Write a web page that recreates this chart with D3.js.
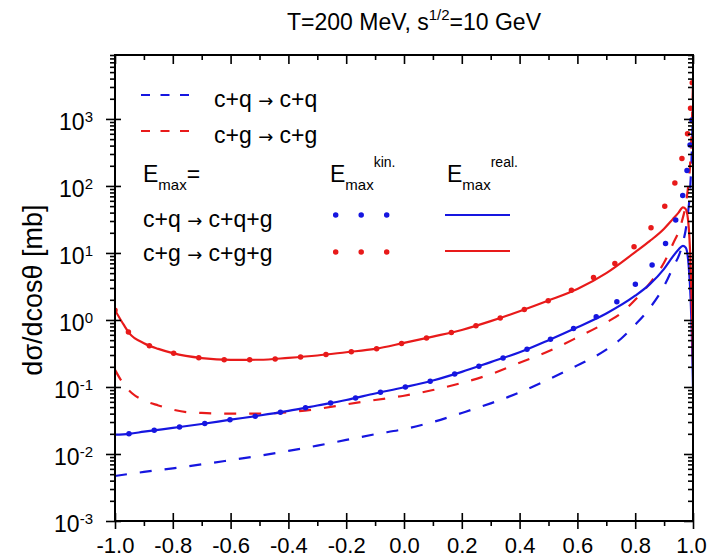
<!DOCTYPE html>
<meta charset="utf-8">
<style>
  body { margin: 0; background: #fff; }
  svg text { font-family: "Liberation Sans", Arial, sans-serif; fill: #000; }
  .arrow { font-family: "DejaVu Sans", sans-serif; }
</style>
<body>
<div id="chart"></div>
<script src="https://cdn.jsdelivr.net/npm/d3@7/dist/d3.min.js"></script>
<script>
// values: [cos theta, dsigma/dcos theta in mb]
const cqElastic = [[-1, 0.0047], [-0.9, 0.0054], [-0.8, 0.0061], [-0.7, 0.0070], [-0.6, 0.0081],
  [-0.5, 0.0094], [-0.4, 0.0111], [-0.3, 0.0133], [-0.2, 0.0162], [-0.1, 0.0197], [0, 0.0235],
  [0.1, 0.030], [0.2, 0.041], [0.3, 0.057], [0.4, 0.083], [0.5, 0.13], [0.6, 0.21], [0.7, 0.36],
  [0.75, 0.52], [0.8, 0.85], [0.85, 1.5], [0.9, 3.2], [0.93, 6], [0.96, 12], [0.98, 32],
  [0.99, 90], [0.995, 250], [1.0, 1500]];
const cgElastic = [[-1, 0.18], [-0.97, 0.11], [-0.94, 0.08], [-0.9, 0.063], [-0.85, 0.053],
  [-0.8, 0.046], [-0.75, 0.042], [-0.7, 0.041], [-0.6, 0.040], [-0.5, 0.040], [-0.4, 0.042],
  [-0.3, 0.047], [-0.2, 0.055], [-0.1, 0.064], [0, 0.074], [0.1, 0.090], [0.2, 0.115],
  [0.3, 0.155], [0.4, 0.23], [0.5, 0.34], [0.6, 0.55], [0.7, 0.92], [0.75, 1.25], [0.8, 2.0],
  [0.85, 3.5], [0.9, 7.2], [0.93, 13.5], [0.96, 28], [0.98, 75], [0.99, 210], [0.995, 580],
  [1.0, 3500]];
const cqReal = [[-1, 0.0194], [-0.95, 0.020], [-0.9, 0.0215], [-0.8, 0.0245], [-0.7, 0.028],
  [-0.6, 0.0325], [-0.5, 0.0375], [-0.4, 0.044], [-0.3, 0.053], [-0.2, 0.064], [-0.1, 0.080],
  [0, 0.099], [0.1, 0.125], [0.2, 0.168], [0.3, 0.235], [0.4, 0.33], [0.5, 0.50], [0.6, 0.78],
  [0.7, 1.25], [0.8, 2.3], [0.85, 3.4], [0.9, 5.8], [0.93, 8.8], [0.95, 11.3], [0.965, 12.8],
  [0.975, 12], [0.985, 6.5], [0.992, 2], [0.996, 0.6], [1.0, 0.1]];
const cgReal = [[-1, 1.4], [-0.97, 0.85], [-0.95, 0.63], [-0.9, 0.45], [-0.85, 0.37],
  [-0.8, 0.32], [-0.7, 0.27], [-0.6, 0.254], [-0.5, 0.255], [-0.4, 0.272], [-0.3, 0.295],
  [-0.2, 0.33], [-0.1, 0.37], [0, 0.455], [0.1, 0.565], [0.2, 0.71], [0.3, 0.96], [0.4, 1.35],
  [0.5, 1.95], [0.6, 2.9], [0.7, 5.0], [0.8, 10.3], [0.85, 15], [0.9, 23], [0.93, 32],
  [0.95, 40], [0.965, 48], [0.975, 45], [0.985, 25], [0.992, 6], [0.996, 1.5], [1.0, 0.22]];
const cqKin = [[-1, 0.0194], [-0.95, 0.020], [-0.9, 0.0215], [-0.8, 0.0245], [-0.7, 0.028],
  [-0.6, 0.0325], [-0.5, 0.0375], [-0.4, 0.044], [-0.3, 0.053], [-0.2, 0.064], [-0.1, 0.080],
  [0, 0.099], [0.1, 0.125], [0.2, 0.168], [0.3, 0.235], [0.4, 0.33], [0.5, 0.50], [0.6, 0.80],
  [0.7, 1.4], [0.76, 2.3], [0.82, 4.2], [0.88, 9], [0.92, 19], [0.95, 42], [0.97, 95],
  [0.98, 180], [0.99, 420], [0.995, 800], [1.0, 2000]];
const cgKin = [[-1, 1.4], [-0.97, 0.85], [-0.95, 0.63], [-0.9, 0.45], [-0.85, 0.37],
  [-0.8, 0.32], [-0.7, 0.27], [-0.6, 0.254], [-0.5, 0.255], [-0.4, 0.272], [-0.3, 0.295],
  [-0.2, 0.33], [-0.1, 0.37], [0, 0.455], [0.1, 0.565], [0.2, 0.71], [0.3, 0.96], [0.4, 1.35],
  [0.5, 1.95], [0.6, 3.1], [0.68, 5.0], [0.76, 8.8], [0.82, 16], [0.88, 34], [0.92, 72],
  [0.95, 165], [0.97, 370], [0.987, 925], [0.995, 2300], [1.0, 5700]];

const xTicks = [-1.0, -0.8, -0.6, -0.4, -0.2, 0.0, 0.2, 0.4, 0.6, 0.8, 1.0];
const xMinor = [-0.9, -0.7, -0.5, -0.3, -0.1, 0.1, 0.3, 0.5, 0.7, 0.9];
const yExponents = [-3, -2, -1, 0, 1, 2, 3];

const width = 707, height = 558;
const margin = {top: 55, right: 14, bottom: 37, left: 115};
const blue = "#1616e0", red = "#e81a1a";

const x = d3.scaleLinear().domain([-1, 1]).range([margin.left, width - margin.right]);
const y = d3.scaleLog().domain([1e-3, 9000]).range([height - margin.bottom, margin.top]);

const yMajor = yExponents.map(e => Math.pow(10, e));
let yMinor = [];
for (let e = -3; e <= 3; e++)
  for (let m = 2; m <= 9; m++) yMinor.push(m * Math.pow(10, e));

const svg = d3.select("#chart").append("svg")
  .attr("width", width).attr("height", height);

svg.append("clipPath").attr("id", "plot")
  .append("rect")
  .attr("x", margin.left).attr("y", margin.top)
  .attr("width", width - margin.left - margin.right)
  .attr("height", height - margin.top - margin.bottom);

// title
const title = svg.append("text")
  .attr("x", x(0) + 10).attr("y", 30)
  .attr("text-anchor", "middle").attr("font-size", 23);
title.append("tspan").text("T=200 MeV, s");
title.append("tspan").attr("dy", -10).attr("font-size", 15).text("1/2");
title.append("tspan").attr("dy", 10).text("=10 GeV");

// curves
const line = d3.line()
  .x(d => x(d[0]))
  .y(d => y(d[1]))
  .curve(d3.curveMonotoneX);

const curves = svg.append("g").attr("clip-path", "url(#plot)").attr("fill", "none");
const series = [
  {data: cqElastic, color: blue, dash: "12 13", w: 2.2},
  {data: cgElastic, color: red, dash: "12 13", w: 2.2},
  {data: cqReal, color: blue, dash: null, w: 2.2},
  {data: cgReal, color: red, dash: null, w: 2.2},
  {data: cqKin, color: blue, dash: "0 25.5", w: 5.5, off: 11.5},
  {data: cgKin, color: red, dash: "0 25.5", w: 5.5, off: 0}
];
series.forEach(s => {
  curves.append("path")
    .attr("d", line(s.data))
    .attr("stroke", s.color)
    .attr("stroke-width", s.w)
    .attr("stroke-dasharray", s.dash)
    .attr("stroke-dashoffset", s.off || 0)
    .attr("stroke-linecap", s.dash && s.dash.startsWith("0") ? "round" : "butt");
});

// axes
const plotBottom = height - margin.bottom, plotRight = width - margin.right;
const noLabel = () => "";

svg.append("g").attr("transform", `translate(0,${plotBottom})`)
  .call(d3.axisBottom(x).tickValues(xTicks).tickSize(8).tickPadding(8)
    .tickFormat(d => d.toFixed(1)))
  .call(g => g.selectAll("text").attr("font-size", 22))
  .call(g => g.select(".tick:last-of-type text").attr("dx", -2))
  .call(g => g.select(".domain").remove());
svg.append("g").attr("transform", `translate(0,${plotBottom})`)
  .call(d3.axisTop(x).tickValues(xTicks).tickSize(8).tickFormat(noLabel))
  .call(g => g.select(".domain").remove());
svg.append("g").attr("transform", `translate(0,${plotBottom})`)
  .call(d3.axisBottom(x).tickValues(xMinor).tickSize(5).tickFormat(noLabel))
  .call(g => g.select(".domain").remove());
svg.append("g").attr("transform", `translate(0,${margin.top})`)
  .call(d3.axisBottom(x).tickValues(xTicks).tickSize(9).tickFormat(noLabel))
  .call(g => g.select(".domain").remove());
svg.append("g").attr("transform", `translate(0,${margin.top})`)
  .call(d3.axisBottom(x).tickValues(xMinor).tickSize(5).tickFormat(noLabel))
  .call(g => g.select(".domain").remove());

svg.append("g").attr("transform", `translate(${margin.left},0)`)
  .call(d3.axisLeft(y).tickValues(yMajor).tickSize(9).tickPadding(13).tickFormat(noLabel))
  .call(g => g.select(".domain").remove())
  .call(g => g.selectAll(".tick text").each(function(d, i) {
    const t = d3.select(this).attr("font-size", 23).attr("dy", "0.45em");
    t.append("tspan").text("10");
    t.append("tspan").attr("dy", "-0.55em").attr("font-size", 15).text(yExponents[i]);
  }));
svg.append("g").attr("transform", `translate(${margin.left},0)`)
  .call(d3.axisRight(y).tickValues(yMajor).tickSize(6).tickFormat(noLabel))
  .call(g => g.select(".domain").remove());
svg.append("g").attr("transform", `translate(${margin.left},0)`)
  .call(d3.axisLeft(y).tickValues(yMinor).tickSize(5).tickFormat(noLabel))
  .call(g => g.select(".domain").remove());
svg.append("g").attr("transform", `translate(${plotRight},0)`)
  .call(d3.axisLeft(y).tickValues(yMajor).tickSize(9).tickFormat(noLabel))
  .call(g => g.select(".domain").remove());
svg.append("g").attr("transform", `translate(${plotRight},0)`)
  .call(d3.axisLeft(y).tickValues(yMinor).tickSize(5).tickFormat(noLabel))
  .call(g => g.select(".domain").remove());

svg.selectAll(".tick line").attr("stroke", "#000").attr("stroke-width", 1.6);

svg.append("rect")
  .attr("x", margin.left).attr("y", margin.top)
  .attr("width", plotRight - margin.left).attr("height", plotBottom - margin.top)
  .attr("fill", "none").attr("stroke", "#000").attr("stroke-width", 2);

// y label
svg.append("text")
  .attr("transform", `translate(42,${(margin.top + plotBottom) / 2 + 2}) rotate(-90)`)
  .attr("text-anchor", "middle").attr("font-size", 27)
  .text("dσ/dcosθ [mb]");

// legend
const legend = svg.append("g").attr("font-size", 23);
function legendLine(x1, x2, yy, color, dash, w) {
  legend.append("line")
    .attr("x1", x1).attr("x2", x2).attr("y1", yy).attr("y2", yy)
    .attr("stroke", color).attr("stroke-width", w)
    .attr("stroke-dasharray", dash)
    .attr("stroke-linecap", dash && dash.startsWith("0") ? "round" : "butt");
}
function reaction(x0, yy, a, b) {
  const t = legend.append("text").attr("x", x0).attr("y", yy);
  t.append("tspan").text(a + " ");
  t.append("tspan").attr("class", "arrow").attr("font-size", 18).text("→");
  t.append("tspan").text(" " + b);
}
legendLine(141, 199, 95, blue, "9 10.5", 2.2);
legendLine(141, 199, 131, red, "9 10.5", 2.2);
reaction(214, 107, "c+q", "c+q");
reaction(214, 143, "c+g", "c+g");

function emax(x0, sup) {
  const t = legend.append("text").attr("x", x0).attr("y", 182);
  t.append("tspan").text("E");
  t.append("tspan").attr("dy", 8).attr("font-size", 15).text("max");
  if (sup) t.append("tspan").attr("dy", -23).attr("font-size", 14).text(sup);
  else t.append("tspan").attr("dy", -8).text("=");
}
emax(143, null);
emax(330, "kin.");
emax(447, "real.");

reaction(143, 227, "c+q", "c+q+g");
reaction(143, 261, "c+g", "c+g+g");
legendLine(335.7, 387, 215, blue, "0 25.5", 5.5);
legendLine(335.7, 387, 252, red, "0 25.5", 5.5);
legendLine(445, 510, 215, blue, null, 2.2);
legendLine(445, 510, 251, red, null, 2.2);
</script>
</body>
